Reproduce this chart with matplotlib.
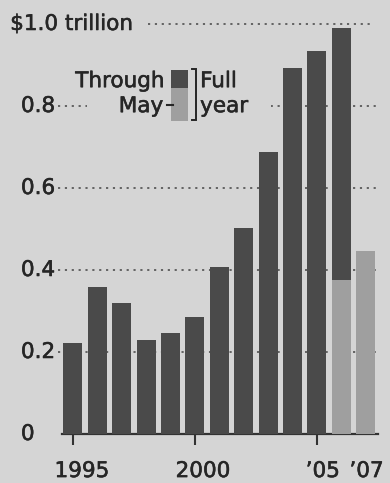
import matplotlib
matplotlib.use("Agg")
import matplotlib.pyplot as plt
from matplotlib.patches import Rectangle
from matplotlib.transforms import ScaledTranslation
import matplotlib.patheffects as pe

# Annual totals, $ trillion
years = [1995, 1996, 1997, 1998, 1999, 2000, 2001, 2002, 2003, 2004, 2005, 2006]
full_year = [0.223, 0.359, 0.319, 0.229, 0.246, 0.285, 0.408, 0.502, 0.689, 0.892, 0.933, 0.990]

# Year-to-date totals through May
may_years = [2006, 2007]
through_may = [0.376, 0.447]

# Axis labelling
y_ticks = [0.0, 0.2, 0.4, 0.6, 0.8, 1.0]
y_labels = ["0", "0.2", "0.4", "0.6", "0.8", "$1.0 trillion"]
x_tick_years = [1995, 2000, 2005]
x_label_years = [1995, 2000, 2005, 2007]
x_labels = ["1995", "2000", "\u201905", "\u201907"]

# Styling
BG = "#d5d5d5"
DARK = "#4a4a4a"
LIGHT = "#9f9f9f"
INK = "#262626"
GRID = "#5a5a5a"
FS = 15.5
label_nudge_px = [9, 8, 6, 1]
TEXT_FX = [pe.withStroke(linewidth=0.4, foreground=INK)]

W, H, DPI = 390, 483, 100
fig = plt.figure(figsize=(W / DPI, H / DPI), dpi=DPI, facecolor=BG)
ax = fig.add_axes([62 / W, (H - 434) / H, 316 / W, 410 / H], facecolor=BG)
ax.set_xlim(1994.55, 2007.51)
ax.set_ylim(0, 1.0)

ytr = ax.get_yaxis_transform()  # x in axes fraction, y in data


def label(x, y, s, transform, **kw):
    return ax.text(x, y, s, transform=transform, fontsize=FS, color=INK,
                   path_effects=TEXT_FX, **kw)


# Dotted guide lines behind the bars
for v in y_ticks[1:]:
    x0 = 0.272 if v == 1.0 else -0.013
    x1 = 0.983 if v == 1.0 else 0.995
    ax.plot([x0, x1], [v, v], transform=ytr, color=GRID, lw=1.3,
            ls=(0, (1.2, 2.6)), zorder=1, clip_on=False)

# Bars
bw = 0.78
ax.bar(years, full_year, width=bw, color=DARK, zorder=3, linewidth=0)
ax.bar(may_years, through_may, width=bw, color=LIGHT, zorder=4, linewidth=0)

# Y labels (left aligned, dollar sign hanging into the margin)
for v, lab in zip(y_ticks, y_labels):
    xs = -0.164 if lab.startswith("$") else -0.13
    label(xs, v, lab, ytr, ha="left", va="center", clip_on=False)

# Baseline and tick marks
for s in ["top", "right", "left"]:
    ax.spines[s].set_visible(False)
ax.spines["bottom"].set_color("#333333")
ax.spines["bottom"].set_linewidth(1.6)
ax.set_yticks([])
ax.set_xticks(x_tick_years)
ax.set_xticklabels([])
ax.tick_params(axis="x", direction="out", length=8, width=1.5, color="#333333")

# Year labels
xtr = ax.get_xaxis_transform()
for yr, lab, dx in zip(x_label_years, x_labels, label_nudge_px):
    t = xtr + ScaledTranslation(dx / DPI, 0, fig.dpi_scale_trans)
    label(yr, -0.105, lab, t, ha="center", va="baseline", clip_on=False)

# Key: mask behind it, mini stacked bar, bracket and text
ax.add_patch(Rectangle((0.08, 0.74), 0.58, 0.17, transform=ytr,
                       facecolor=BG, edgecolor="none", zorder=2))
ax.add_patch(Rectangle((0.345, 0.844), 0.054, 0.044, transform=ytr,
                       facecolor=DARK, edgecolor="none", zorder=5))
ax.add_patch(Rectangle((0.345, 0.763), 0.054, 0.081, transform=ytr,
                       facecolor=LIGHT, edgecolor="none", zorder=5))
ax.plot([0.332, 0.351], [0.802, 0.802], transform=ytr, color=INK, lw=1.5, zorder=6)
ax.plot([0.410, 0.424, 0.424, 0.410], [0.890, 0.890, 0.766, 0.766],
        transform=ytr, color=INK, lw=1.4, zorder=6, solid_joinstyle="miter")
label(0.326, 0.846, "Through", ytr, ha="right", va="baseline", zorder=6)
label(0.32, 0.785, "May", ytr, ha="right", va="baseline", zorder=6)
label(0.437, 0.846, "Full", ytr, ha="left", va="baseline", zorder=6)
label(0.437, 0.785, "year", ytr, ha="left", va="baseline", zorder=6)

fig.savefig("out.png", dpi=DPI, facecolor=BG)
